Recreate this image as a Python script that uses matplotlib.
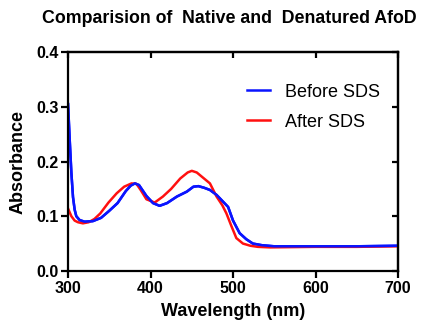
import matplotlib
matplotlib.use("Agg")
import matplotlib.pyplot as plt

plt.rcParams["font.family"] = ["Liberation Sans", "DejaVu Sans"]

# Wavelength (nm) / absorbance
wl_before = [300, 302, 304, 306, 308, 310, 314, 320, 330, 340, 350, 360, 370, 376, 381, 386,
             395, 403, 411, 420, 432, 444, 452, 458, 465, 472, 480, 487, 494, 500, 508,
             516, 524, 535, 550, 600, 650, 700]
ab_before = [0.305, 0.24, 0.18, 0.135, 0.112, 0.100, 0.093, 0.090, 0.091, 0.097, 0.110, 0.124,
             0.146, 0.156, 0.160, 0.157, 0.137, 0.124, 0.119, 0.124, 0.136, 0.145, 0.154,
             0.155, 0.152, 0.148, 0.139, 0.128, 0.117, 0.092, 0.069, 0.058, 0.050, 0.047,
             0.045, 0.045, 0.045, 0.046]

wl_after = [300, 304, 308, 312, 318, 325, 332, 339, 349, 359, 368, 377, 383, 388, 395, 405,
            415, 425, 436, 445, 450, 456, 464, 472, 480, 487, 492, 498, 504, 512, 521,
            530, 545, 600, 650, 700]
ab_after = [0.114, 0.100, 0.092, 0.089, 0.087, 0.089, 0.095, 0.105, 0.125, 0.142, 0.154,
            0.160, 0.159, 0.148, 0.131, 0.125, 0.136, 0.150, 0.169, 0.180, 0.183, 0.180,
            0.170, 0.160, 0.136, 0.120, 0.105, 0.082, 0.060, 0.050, 0.046, 0.044, 0.043,
            0.044, 0.044, 0.045]

fig = plt.figure(figsize=(4.28, 3.26), dpi=100)
ax = fig.add_axes([0.159, 0.169, 0.771, 0.671])

ax.plot(wl_before, ab_before, color="#0a14ff", lw=1.8, label="Before SDS")
ax.plot(wl_after, ab_after, color="#ff1010", lw=1.8, label="After SDS")
# redraw blue on top like the original
ax.plot(wl_before, ab_before, color="#0a14ff", lw=1.8)

ax.set_xlim(300, 700)
ax.set_ylim(0, 0.4)
ax.set_xticks([300, 400, 500, 600, 700])
ax.set_yticks([0.0, 0.1, 0.2, 0.3, 0.4])
ax.set_yticklabels(["0.0", "0.1", "0.2", "0.3", "0.4"])

for s in ax.spines.values():
    s.set_linewidth(1.6)
ax.tick_params(axis="both", which="major", direction="out", width=1.6, length=5,
               labelsize=11.5, pad=2)
for lab in ax.get_xticklabels() + ax.get_yticklabels():
    lab.set_fontweight("bold")

# inward ticks on top / right frame
top = ax.secondary_xaxis("top")
top.set_xticks([300, 400, 500, 600, 700])
top.tick_params(direction="in", width=1.6, length=4, labeltop=False)
top.spines["top"].set_linewidth(1.6)
right = ax.secondary_yaxis("right")
right.set_yticks([0.0, 0.1, 0.2, 0.3, 0.4])
right.tick_params(direction="in", width=1.6, length=4, labelright=False)
right.spines["right"].set_linewidth(1.6)

ax.set_xlabel("Wavelength (nm)", fontsize=13, fontweight="bold", labelpad=5)
ax.set_ylabel("Absorbance", fontsize=13, fontweight="bold", labelpad=7)
fig.suptitle("Comparision of  Native and  Denatured AfoD", fontsize=12.8,
             fontweight="bold", x=0.535, y=0.97)

ax.legend(loc="upper right", bbox_to_anchor=(0.995, 0.93), frameon=False,
          fontsize=13, handlelength=1.25, handletextpad=0.85, labelspacing=0.72)

fig.savefig("out.png", dpi=100)
